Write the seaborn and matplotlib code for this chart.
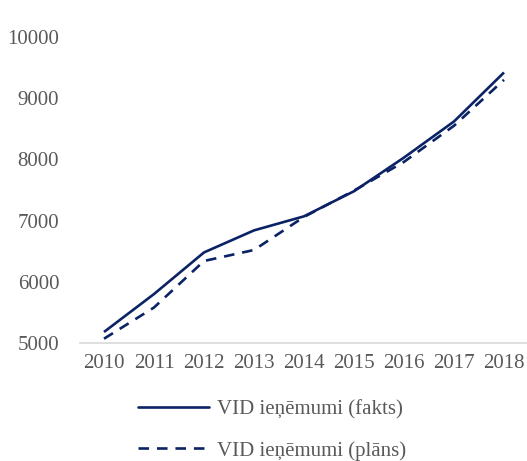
import pandas as pd
import matplotlib.pyplot as plt
import seaborn as sns

years = [2010, 2011, 2012, 2013, 2014, 2015, 2016, 2017, 2018]
fakts = [5180, 5800, 6480, 6840, 7070, 7480, 8030, 8620, 9420]
plans = [5070, 5580, 6340, 6520, 7060, 7490, 7960, 8550, 9300]
labels = ['VID ieņēmumi (fakts)', 'VID ieņēmumi (plāns)']

df = pd.DataFrame({
    'Gads': years * 2,
    'Vērtība': fakts + plans,
    'Sērija': [labels[0]] * len(years) + [labels[1]] * len(years),
})

sns.set_style('white')
plt.rcParams['font.family'] = ['Liberation Serif', 'DejaVu Serif']

fig = plt.figure(figsize=(5.27, 4.61), dpi=100)
ax = fig.add_axes([80 / 527, 1 - 343 / 461, 447 / 527, (343 - 37) / 461])

navy = '#0b2265'
dash = (4, 3)
sns.lineplot(data=df, x='Gads', y='Vērtība', hue='Sērija', style='Sērija',
             palette=[navy, navy], dashes=[(1, 0), dash], linewidth=1.9,
             ax=ax, legend=False)

ax.set_xlim(2009.52, 2018.46)
ax.set_ylim(5000, 10000)
ax.set_xticks(years)
ax.set_yticks(range(5000, 10001, 1000))
ax.tick_params(axis='both', labelsize=15, labelcolor='#595959', length=0)
ax.tick_params(axis='x', pad=8)
ax.tick_params(axis='y', pad=15)
ax.set_xlabel('')
ax.set_ylabel('')
for s in ['top', 'right', 'left']:
    ax.spines[s].set_visible(False)
ax.spines['bottom'].set_color('#d9d9d9')
ax.spines['bottom'].set_linewidth(1.2)

handles = [plt.Line2D([], [], color=navy, lw=1.9),
           plt.Line2D([], [], color=navy, lw=1.9, dashes=dash)]
fig.legend(handles, labels, loc='center', bbox_to_anchor=(272 / 527, 1 - 430 / 461),
           ncol=1, frameon=False, fontsize=15, labelcolor='#595959',
           handlelength=3.4, handletextpad=0.35, labelspacing=1.05)

fig.savefig('out.png', dpi=100)
